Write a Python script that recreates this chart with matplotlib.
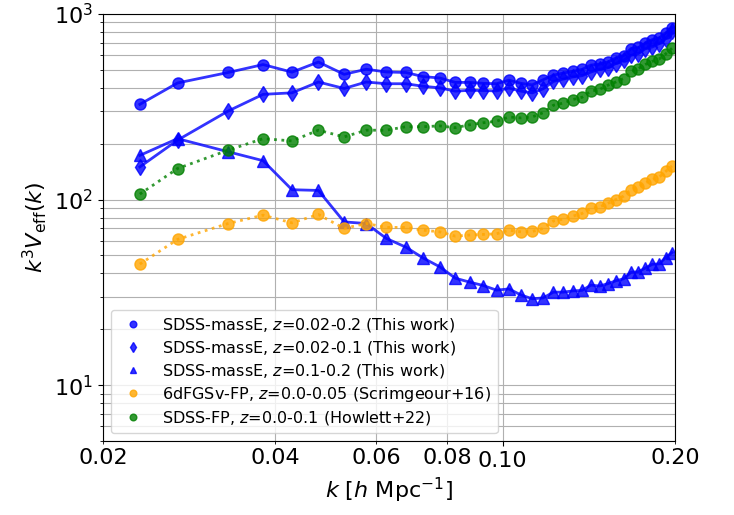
import matplotlib
matplotlib.use('Agg')
import matplotlib.pyplot as plt
from matplotlib.ticker import FixedLocator, FormatStrFormatter

# wavenumber bins (h/Mpc)
k = [0.0232, 0.0270, 0.0331, 0.0381, 0.0428, 0.0476, 0.0528, 0.0577, 0.0626,
     0.0677, 0.0725, 0.0776, 0.0826, 0.0875, 0.0925, 0.0975, 0.1025, 0.1076,
     0.1126, 0.1176, 0.1226, 0.1276, 0.1326, 0.1376, 0.1426, 0.1476, 0.1526,
     0.1576, 0.1626, 0.1676, 0.1726, 0.1776, 0.1826, 0.1876, 0.1926, 0.1976]

# k^3 V_eff(k) for each sample
massE_all = [326, 425, 484, 534, 486, 551, 473, 504, 487, 484, 460, 452, 428, 428,
             423, 421, 440, 423, 415, 442, 468, 481, 491, 503, 531, 537, 551, 579,
             597, 651, 660, 697, 728, 742, 789, 843]
massE_low = [150, 209, 300, 369, 376, 430, 397, 430, 421, 421, 408, 400, 384, 388,
             387, 385, 399, 384, 376, 395, 433, 446, 458, 465, 487, 503, 513, 541,
             563, 599, 612, 651, 664, 693, 737, 809]
massE_high = [173, 213, 181, 162, 113, 112, 75.8, 74.3, 61.7, 55.4, 48.5, 43.4, 37.7,
              35.9, 34.4, 32.5, 33.0, 30.6, 29.2, 29.5, 31.7, 31.7, 32.2, 32.4, 34.6,
              34.2, 35.2, 36.5, 37.4, 40.6, 40.8, 42.8, 44.8, 45.0, 48.7, 51.8]
sixdf = [44.9, 61.0, 74.3, 82.4, 74.9, 83.1, 69.9, 74.3, 70.8, 70.8, 68.4, 67.0, 63.5,
         64.4, 64.9, 65.4, 68.4, 67.0, 67.3, 69.9, 76.7, 78.4, 81.4, 84.2, 89.6, 91.3,
         95.3, 100, 104.3, 113.3, 116.6, 123, 128.5, 132, 141.7, 151.7]
sdss_fp = [107, 147, 184.5, 213, 207, 236.5, 217.6, 236.5, 236.5, 247, 247, 249.5, 244,
           253, 259.5, 264.4, 278.8, 275.4, 278.8, 293.8, 322.4, 331.3, 346, 356, 384.5,
           392, 413, 430, 449, 490, 508, 535, 556, 572, 609, 654]

labels = ['SDSS-massE, $z$=0.02-0.2 (This work)',
          'SDSS-massE, $z$=0.02-0.1 (This work)',
          'SDSS-massE, $z$=0.1-0.2 (This work)',
          '6dFGSv-FP, $z$=0.0-0.05 (Scrimgeour+16)',
          'SDSS-FP, $z$=0.0-0.1 (Howlett+22)']

fig = plt.figure(figsize=(7.34, 5.15), dpi=100)
ax = fig.add_axes([0.1403, 0.1437, 0.7793, 0.8291])

series = [(massE_all, 'blue', 'o', '-'),
          (massE_low, 'blue', 'd', '-'),
          (massE_high, 'blue', '^', '-'),
          (sixdf, 'orange', 'o', ':'),
          (sdss_fp, 'green', 'o', ':')]

for (vals, col, mk, ls), lab in zip(series, labels):
    ax.plot(k, vals, color=col, linestyle=ls, lw=2, alpha=0.8)
    ax.plot(k, vals, color=col, marker=mk, linestyle='none', markersize=8,
            alpha=0.8, label=lab)

ax.set_xscale('log')
ax.set_yscale('log')
ax.set_xlim(0.02, 0.2)
ax.set_ylim(5, 1000)

ax.xaxis.set_minor_locator(FixedLocator([0.02, 0.04, 0.06, 0.08, 0.2]))
ax.xaxis.set_major_formatter(FormatStrFormatter('%.2f'))
ax.xaxis.set_minor_formatter(FormatStrFormatter('%.2f'))
ax.tick_params(axis='both', which='both', labelsize=16)

ax.grid(True, which='both')

ax.set_xlabel(r'$k$ [$h$ Mpc$^{-1}$]', fontsize=16)
ax.set_ylabel(r'$k^3 V_{\rm eff}(k)$', fontsize=16)

ax.legend(loc='lower left', fontsize=11.5, markerscale=0.6, labelspacing=0.3)

fig.savefig('out.png', dpi=100)
